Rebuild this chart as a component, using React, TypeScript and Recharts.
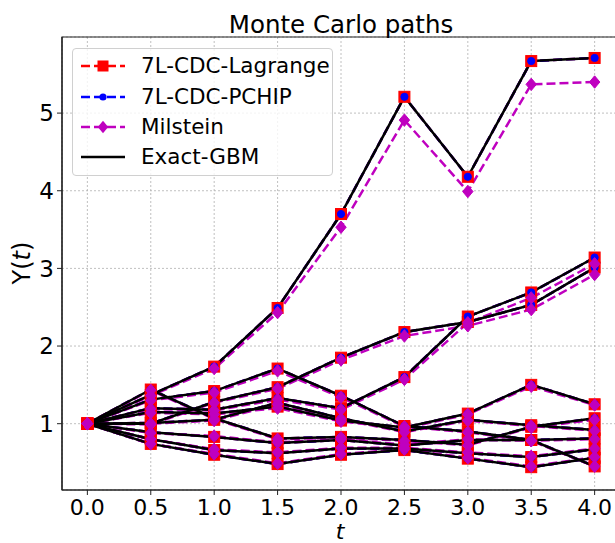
import React from "react";
import { LineChart, Line, XAxis, YAxis, CartesianGrid, ReferenceArea } from "recharts";

// ---- data ----
const times = [0, 0.5, 1.0, 1.5, 2.0, 2.5, 3.0, 3.5, 4.0];
const xTicks = [0, 0.5, 1.0, 1.5, 2.0, 2.5, 3.0, 3.5, 4.0];
const yTicks = [1, 2, 3, 4, 5];

// Exact-GBM paths (10 Monte Carlo paths)
const exactP1 = [1, 1.37, 1.735, 2.49, 3.70, 5.21, 4.18, 5.67, 5.71];
const exactP2 = [1, 1.00, 1.28, 1.47, 1.85, 2.18, 2.31, 2.53, 3.01];
const exactP3 = [1, 1.20, 1.18, 1.33, 1.20, 1.60, 2.38, 2.69, 3.14];
const exactP4 = [1, 1.44, 1.07, 0.81, 0.83, 0.79, 0.73, 0.96, 1.07];
const exactP5 = [1, 1.31, 1.42, 1.71, 1.36, 0.97, 0.90, 0.79, 0.45];
const exactP6 = [1, 1.15, 1.13, 1.22, 1.04, 0.95, 1.13, 1.50, 1.25];
const exactP7 = [1, 1.01, 1.05, 1.27, 1.07, 0.90, 1.05, 0.98, 0.92];
const exactP8 = [1, 0.89, 0.83, 0.75, 0.79, 0.72, 0.79, 0.79, 0.81];
const exactP9 = [1, 0.80, 0.66, 0.62, 0.68, 0.68, 0.62, 0.57, 0.67];
const exactP10 = [1, 0.74, 0.60, 0.48, 0.60, 0.66, 0.55, 0.44, 0.56];

// Milstein paths
const milP1 = [1, 1.36, 1.71, 2.43, 3.53, 4.91, 3.99, 5.37, 5.40];
const milP2 = [1, 0.99, 1.27, 1.45, 1.82, 2.13, 2.26, 2.47, 2.92];
const milP3 = [1, 1.19, 1.17, 1.31, 1.18, 1.57, 2.30, 2.62, 3.06];
const milP4 = [1, 1.43, 1.06, 0.80, 0.82, 0.78, 0.72, 0.95, 1.05];
const milP5 = [1, 1.30, 1.40, 1.68, 1.34, 0.96, 0.89, 0.78, 0.45];
const milP6 = [1, 1.14, 1.12, 1.20, 1.03, 0.94, 1.12, 1.48, 1.24];
const milP7 = [1, 1.00, 1.04, 1.25, 1.06, 0.89, 1.04, 0.97, 0.91];
const milP8 = [1, 0.88, 0.84, 0.76, 0.80, 0.73, 0.80, 0.78, 0.80];
const milP9 = [1, 0.80, 0.67, 0.63, 0.69, 0.69, 0.63, 0.58, 0.68];
const milP10 = [1, 0.74, 0.61, 0.49, 0.61, 0.67, 0.56, 0.45, 0.57];

// 7L-CDC-Lagrange and 7L-CDC-PCHIP sit on the exact path in the picture
const exactPaths = [exactP1, exactP2, exactP3, exactP4, exactP5, exactP6, exactP7, exactP8, exactP9, exactP10];
const milPaths = [milP1, milP2, milP3, milP4, milP5, milP6, milP7, milP8, milP9, milP10];
const lagrangePaths = exactPaths;
const pchipPaths = exactPaths;

const rows = times.map((t, i) => {
  const r: Record<string, number> = { t };
  exactPaths.forEach((p, k) => {
    r[`ex${k}`] = p[i];
    r[`lg${k}`] = lagrangePaths[k][i];
    r[`pc${k}`] = pchipPaths[k][i];
    r[`mi${k}`] = milPaths[k][i];
  });
  return r;
});

const FONT = "'DejaVu Sans', sans-serif";
const RED = "#ff0000";
const BLUE = "#0000ff";
const MAG = "#bf00bf";

const squareDot = (props: any) => {
  const { cx, cy, index, dataKey } = props;
  if (cx == null || cy == null) return <g key={`${dataKey}-${index}`} />;
  return <rect key={`${dataKey}-${index}`} x={cx - 5.5} y={cy - 5.5} width={11} height={11} fill={RED} stroke={RED} strokeWidth={1} />;
};
const circleDot = (props: any) => {
  const { cx, cy, index, dataKey } = props;
  if (cx == null || cy == null) return <g key={`${dataKey}-${index}`} />;
  return <circle key={`${dataKey}-${index}`} cx={cx} cy={cy} r={3.6} fill={BLUE} stroke={BLUE} strokeWidth={1} />;
};
const diamondDot = (props: any) => {
  const { cx, cy, index, dataKey } = props;
  if (cx == null || cy == null) return <g key={`${dataKey}-${index}`} />;
  const h = 6.2, w = 5.2;
  return (
    <polygon
      key={`${dataKey}-${index}`}
      points={`${cx},${cy - h} ${cx + w},${cy} ${cx},${cy + h} ${cx - w},${cy}`}
      fill={MAG}
      stroke={MAG}
      strokeWidth={1}
    />
  );
};

const idx = exactPaths.map((_, k) => k);

const LegendRow = ({ color, dashed, marker, label, top }: any) => (
  <div style={{ position: "absolute", left: 0, top, height: 30, width: 260 }}>
    <svg width={60} height={30} style={{ position: "absolute", left: 6, top: 0 }}>
      <line x1={2} y1={15} x2={46} y2={15} stroke={color} strokeWidth={2.5} strokeDasharray={dashed ? "9 4" : undefined} />
      {marker === "square" && <rect x={24 - 5.5} y={15 - 5.5} width={11} height={11} fill={color} />}
      {marker === "circle" && <circle cx={24} cy={15} r={3.6} fill={color} />}
      {marker === "diamond" && <polygon points={`24,${15 - 6.2} ${24 + 5.2},15 24,${15 + 6.2} ${24 - 5.2},15`} fill={color} />}
    </svg>
    <span style={{ position: "absolute", left: 68, top: 15, transform: "translateY(-50%)", fontSize: 21.5, fontFamily: FONT, color: "#000", whiteSpace: "nowrap", lineHeight: 1 }}>
      {label}
    </span>
  </div>
);

export default function App() {
  return (
    <div style={{ position: "fixed", left: 0, top: 0, width: 615, height: 543, overflow: "hidden", background: "#fff" }}>
      <LineChart width={640} height={543} data={rows} margin={{ top: 37, right: 20, bottom: 23, left: 2 }}>
        <CartesianGrid stroke="#b0b0b0" strokeDasharray="2 2" strokeWidth={0.8} />
        <XAxis
          dataKey="t"
          type="number"
          domain={[-0.2, 4.2]}
          ticks={xTicks}
          allowDataOverflow
          tickFormatter={(v: number) => v.toFixed(1)}
          height={30}
          tickSize={5}
          tickMargin={4}
          axisLine={{ stroke: "#222", strokeWidth: 1.2 }}
          tickLine={{ stroke: "#222", strokeWidth: 1 }}
          tick={{ fontSize: 22, fill: "#000", fontFamily: FONT }}
          interval={0}
        />
        <YAxis
          type="number"
          domain={[0.146, 5.98]}
          ticks={yTicks}
          allowDataOverflow
          width={60}
          tickSize={5}
          tickMargin={3}
          axisLine={{ stroke: "#222", strokeWidth: 1.2 }}
          tickLine={{ stroke: "#222", strokeWidth: 1 }}
          tick={{ fontSize: 23, fill: "#000", fontFamily: FONT }}
          interval={0}
        />
        <ReferenceArea x1={-0.2} x2={4.2} y1={0.146} y2={5.98} fill="none" stroke="#222" strokeWidth={1.2} ifOverflow="visible" />
        {idx.map((k) => (
          <Line key={`lg${k}`} dataKey={`lg${k}`} type="linear" stroke={RED} strokeWidth={2.5} strokeDasharray="9 4" dot={squareDot} activeDot={false} isAnimationActive={false} />
        ))}
        {idx.map((k) => (
          <Line key={`pc${k}`} dataKey={`pc${k}`} type="linear" stroke={BLUE} strokeWidth={2.5} strokeDasharray="9 4" dot={circleDot} activeDot={false} isAnimationActive={false} />
        ))}
        {idx.map((k) => (
          <Line key={`mi${k}`} dataKey={`mi${k}`} type="linear" stroke={MAG} strokeWidth={2.5} strokeDasharray="9 4" dot={diamondDot} activeDot={false} isAnimationActive={false} />
        ))}
        {idx.map((k) => (
          <Line key={`ex${k}`} dataKey={`ex${k}`} type="linear" stroke="#000" strokeWidth={2.5} dot={false} activeDot={false} isAnimationActive={false} />
        ))}
      </LineChart>

      {/* title */}
      <div style={{ position: "absolute", left: 141, width: 400, top: 25, transform: "translateY(-50%)", textAlign: "center", fontSize: 24.5, fontFamily: FONT, color: "#000", lineHeight: 1 }}>
        Monte Carlo paths
      </div>
      {/* y label */}
      <div style={{ position: "absolute", left: 22, top: 263, transform: "translate(-50%, -50%) rotate(-90deg)", fontSize: 24, fontFamily: FONT, color: "#000", lineHeight: 1, whiteSpace: "nowrap" }}>
        Y(<i>t</i>)
      </div>
      {/* x label */}
      <div style={{ position: "absolute", left: 340, top: 532, transform: "translate(-50%, -50%)", fontSize: 22, fontFamily: FONT, color: "#000", lineHeight: 1 }}>
        <i>t</i>
      </div>

      {/* legend */}
      <div style={{ position: "absolute", left: 72, top: 48, width: 261, height: 128, border: "1px solid #d0d0d0", borderRadius: 4, background: "rgba(255,255,255,0.8)", boxSizing: "border-box" }}>
        <LegendRow color={RED} dashed marker="square" label="7L-CDC-Lagrange" top={2} />
        <LegendRow color={BLUE} dashed marker="circle" label="7L-CDC-PCHIP" top={32.5} />
        <LegendRow color={MAG} dashed marker="diamond" label="Milstein" top={63} />
        <LegendRow color="#000" dashed={false} marker="none" label="Exact-GBM" top={93} />
      </div>
    </div>
  );
}
